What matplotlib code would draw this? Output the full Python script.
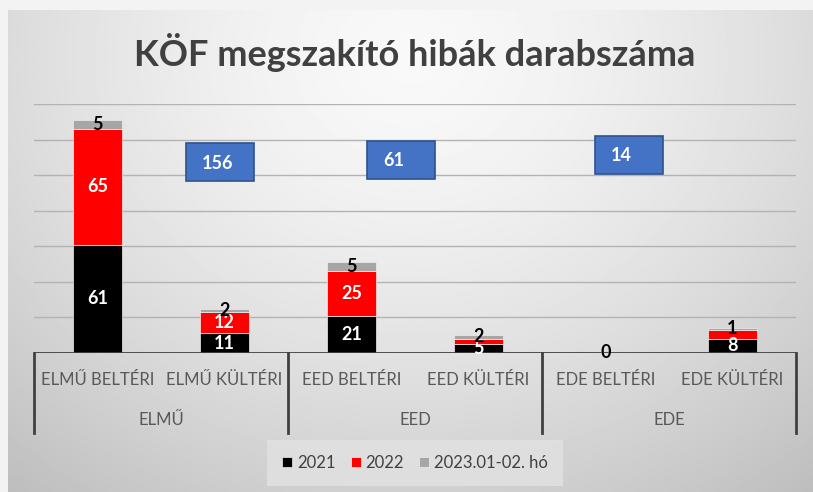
import matplotlib
matplotlib.use('Agg')
import matplotlib.pyplot as plt
from matplotlib.patches import Rectangle
import matplotlib.transforms as mtransforms
import numpy as np

plt.rcParams['font.family'] = ['Lato', 'DejaVu Sans']

# Adatok
kategoriak = ['ELMŰ BELTÉRI', 'ELMŰ KÜLTÉRI', 'EED BELTÉRI', 'EED KÜLTÉRI',
              'EDE BELTÉRI', 'EDE KÜLTÉRI']
csoportok = ['ELMŰ', 'EED', 'EDE']
ev_2021 = [61, 11, 21, 5, 0, 8]
ev_2022 = [65, 12, 25, 3, 0, 5]
ev_2023 = [5, 2, 5, 2, 0, 1]
sorozat_nevek = ['2021', '2022', '2023.01-02. hó']

szinek = ['#000000', '#ff0000', '#a6a6a6']
cimke_szinek = ['white', 'white', 'black']

fig = plt.figure(figsize=(8.13, 4.92), dpi=100)
fig.patch.set_facecolor('#f3f3f3')

# gradiens hatter
bg = fig.add_axes([8 / 813, 0, 1 - 8 / 813, 1 - 10 / 492], zorder=-10)
yy, xx = np.mgrid[0:1:300j, 0:1:500j]
r = np.sqrt(((xx - 0.5) / 0.72) ** 2 + ((yy - 0.1) / 1.05) ** 2)
val = 0.975 - 0.2 * np.clip(r, 0, 1.2) ** 1.5
bg.imshow(val, cmap='gray', vmin=0, vmax=1, aspect='auto', extent=[0, 1, 1, 0])
bg.axis('off')

ax = fig.add_axes([34 / 813, 1 - 353 / 492, (796 - 34) / 813, (353 - 104) / 492])
ax.patch.set_alpha(0)

x = np.arange(len(kategoriak))
also = np.zeros(len(kategoriak))
adatok = [ev_2021, ev_2022, ev_2023]
for i, (vals, nev) in enumerate(zip(adatok, sorozat_nevek)):
    vals = np.array(vals, dtype=float)
    bars = ax.bar(x, vals, bottom=also, width=0.39, color=szinek[i],
                  edgecolor='#eeeeee', linewidth=0.5, label=nev, zorder=3)
    for j, b in enumerate(bars):
        # a kis piros szeletek cimkeje nem latszik az eredetin
        if i == 1 and vals[j] < 6:
            continue
        ax.text(b.get_x() + b.get_width() / 2, also[j] + vals[j] / 2,
                str(int(vals[j])), ha='center', va='center',
                color=cimke_szinek[i], fontsize=13, fontweight='bold', zorder=5)
    also = also + vals

ax.set_xlim(-0.5, len(kategoriak) - 0.5)
ax.set_ylim(0, 140)
ax.set_yticks(np.arange(20, 141, 20))
ax.set_yticklabels([])
ax.tick_params(left=False, bottom=False, labelbottom=False)
ax.yaxis.grid(True, color='#b3b3b3', linewidth=1)
ax.set_axisbelow(True)
for s in ax.spines.values():
    s.set_visible(False)
ax.axhline(0, color='#404040', linewidth=2, zorder=4)

# csoport osszegek (kek dobozok)
osszegek = [sum(ev_2021[k:k + 2]) + sum(ev_2022[k:k + 2]) + sum(ev_2023[k:k + 2])
            for k in range(0, 6, 2)]
doboz_bal = [0.697, 2.122, 3.917]
doboz_also = [96.6, 97.8, 100.6]
for ossz, bx, by in zip(osszegek, doboz_bal, doboz_also):
    ax.add_patch(Rectangle((bx, by), 0.535, 21.3, facecolor='#4472c4',
                           edgecolor='#2f528f', linewidth=1.2, zorder=6))
    ax.text(bx + 0.126, by + 10.2, str(ossz), ha='left', va='center',
            color='white', fontsize=13, fontweight='bold', zorder=7)

# kategoria tengely
trans = mtransforms.blended_transform_factory(ax.transData, ax.transAxes)
for i, k in enumerate(kategoriak):
    ax.text(i, -0.108, k, transform=trans, ha='center', va='center',
            fontsize=12, color='#595959')
for g, cs in enumerate(csoportok):
    ax.text(2 * g + 0.5, -0.27, cs, transform=trans, ha='center', va='center',
            fontsize=12, color='#595959')
for xs in [-0.5, 1.5, 3.5, 5.5]:
    ax.plot([xs, xs], [0, -0.321], transform=trans, color='#404040',
            linewidth=2, clip_on=False, zorder=4)

fig.text(415 / 813, 1 - 53 / 492, 'KÖF megszakító hibák darabszáma',
         ha='center', va='center', fontsize=26, fontweight='bold', color='#404040')

leg = fig.legend(loc='center', bbox_to_anchor=(415 / 813, 1 - 463 / 492), ncol=3,
                 frameon=True, fontsize=12, handlelength=0.6, handleheight=0.6,
                 handletextpad=0.3, columnspacing=0.9, borderpad=0.6)
leg.get_frame().set_facecolor('#e2e2e2')
leg.get_frame().set_edgecolor('none')
leg.get_frame().set_boxstyle('square')
for t in leg.get_texts():
    t.set_color('#404040')

fig.savefig('out.png', dpi=100)
